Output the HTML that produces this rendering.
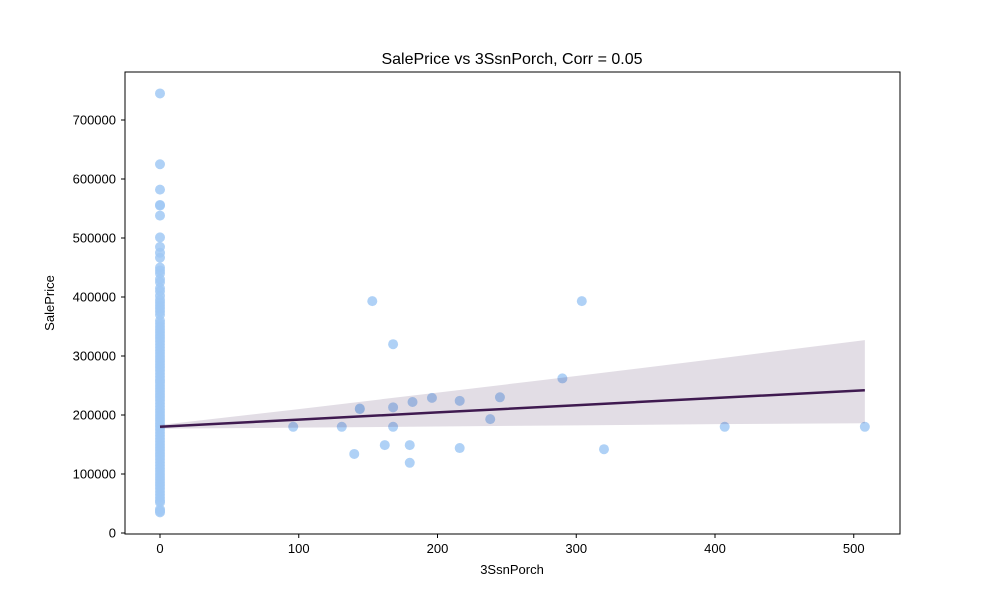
<!DOCTYPE html>
<html><head><meta charset="utf-8"><style>
html,body{margin:0;padding:0;background:#fff;}
svg text{font-family:"Liberation Sans","DejaVu Sans",sans-serif;fill:#000;}
</style></head><body>
<svg id="chart" width="1000" height="600" xmlns="http://www.w3.org/2000/svg">
<rect width="1000" height="600" fill="#fff"/>
<text x="512" y="64" font-size="16" text-anchor="middle">SalePrice vs 3SsnPorch, Corr = 0.05</text>
<g id="plot"></g>
<rect x="125" y="72" width="775" height="462" fill="none" stroke="#000" stroke-width="1"/>
<text x="512" y="574" font-size="13" text-anchor="middle">3SsnPorch</text>
<text x="54" y="303" font-size="13" text-anchor="middle" transform="rotate(-90 54 303)">SalePrice</text>
</svg>
<script>
const zeroPrices=[745000,625000,582000,556000,555000,538000,501000,485000,475000,466500,450000,445000,440000,430000,425000,415000,410000,402000,395000,390000,385000,380000,375000,370000,360000,355000,350000,345000,340000,335000,330000,325000,320000,315000,310000,305000,300000,295000,290000,285000,280000,275000,270000,265000,260000,255000,250000,245000,240000,235000,230000,225000,220000,215000,210000,205000,200000,195000,190000,185000,180000,175000,170000,165000,160000,155000,150000,145000,140000,135000,130000,125000,120000,115000,110000,105000,100000,95000,90000,85000,80000,75000,70000,65000,60000,55000,52000,40000,37000,35000];
const porchX=[96,131,140,144,144,153,162,168,168,168,180,180,182,196,216,216,238,245,290,304,320,407,508];
const porchY=[180000,180000,134000,210000,211000,393000,149000,320000,213000,180000,149000,119000,222000,229000,224000,144000,193000,230000,262000,393000,142000,180000,180000];
const fitX=[0,100,200,300,400,508];
const fitY=[180000,192200,204400,216600,228800,242000];
const ciUpper=[183000,210000,238000,266000,295000,327000];
const ciLower=[177000,178500,180500,182500,184500,186000];
const xTicks=[0,100,200,300,400,500];
const yTicks=[0,100000,200000,300000,400000,500000,600000,700000];

const NS="http://www.w3.org/2000/svg";
const sx=v=>160+v*1.3875;
const sy=v=>533-v*0.00059;
const plot=document.getElementById('plot');
function mk(t,a){const e=document.createElementNS(NS,t);for(const k in a)e.setAttribute(k,a[k]);plot.appendChild(e);return e;}

xTicks.forEach(t=>{
  const l=mk('line',{x1:sx(t),x2:sx(t),y1:534,y2:538,stroke:'#000'});
  
  
  const tx=mk('text',{x:sx(t),y:553,'font-size':13,'text-anchor':'middle'});tx.textContent=t;
  
  
});
yTicks.forEach(t=>{
  const l=mk('line',{x1:121,x2:125,y1:sy(t),y2:sy(t),stroke:'#000'});
  
  
  const tx=mk('text',{x:116,y:sy(t)+4.5,'font-size':13,'text-anchor':'end'});tx.textContent=t;
  
  
});

zeroPrices.forEach(v=>{
  const c=mk('circle',{cx:sx(0),cy:sy(v),r:5,fill:'#a1c9f4','fill-opacity':0.85});
  
  
});
porchX.forEach((x,i)=>{
  const c=mk('circle',{cx:sx(x),cy:sy(porchY[i]),r:5,fill:'#a1c9f4','fill-opacity':0.85});
  
  
});

let d='M'+fitX.map((x,i)=>sx(x)+','+sy(ciUpper[i])).join('L');
for(let i=fitX.length-1;i>=0;i--)d+='L'+sx(fitX[i])+','+sy(ciLower[i]);
const band=mk('path',{d:d+'Z',fill:'#3f1a50','fill-opacity':0.15});


const line=mk('polyline',{points:fitX.map((x,i)=>sx(x)+','+sy(fitY[i])).join(' '),fill:'none',stroke:'#3f1a50','stroke-width':2.5});


</script>
</body></html>
